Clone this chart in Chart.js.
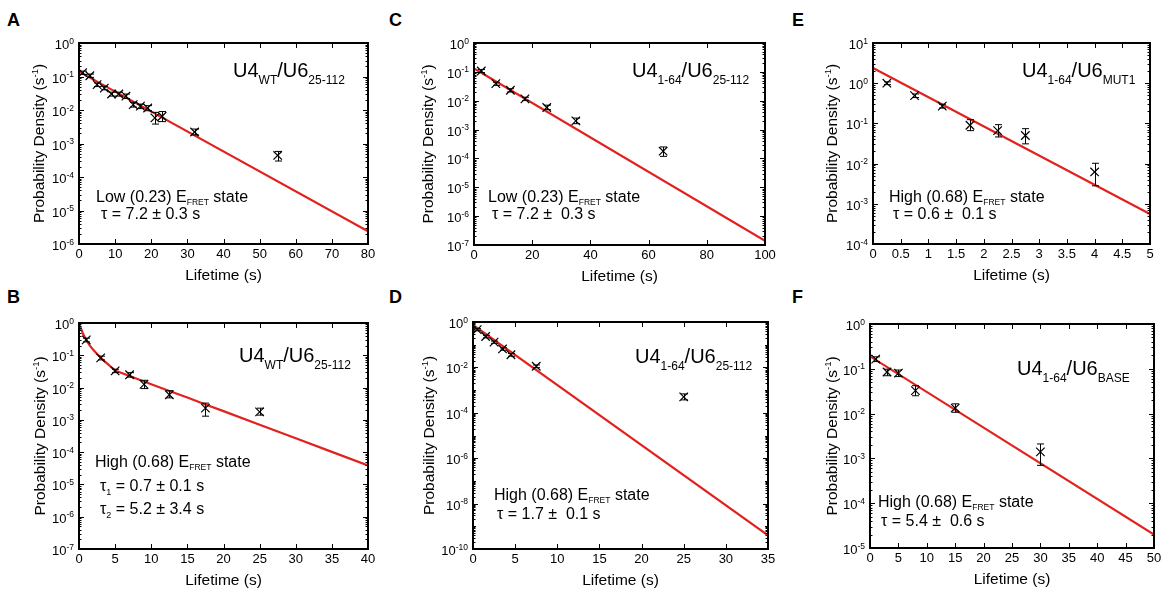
<!DOCTYPE html>
<html lang="en">
<head>
<meta charset="UTF-8">
<title>Dwell time distributions</title>
<script src="https://cdn.jsdelivr.net/npm/chart.js"></script>
<style>
  body { margin: 0; background: #fff; font-family: "Liberation Sans", Arial, sans-serif; }
  #fig { position: relative; width: 1165px; height: 592px; overflow: hidden; }
  #fig canvas { position: absolute; }
  .letter { position: absolute; font-size: 18px; font-weight: bold; line-height: 18px; }
</style>
</head>
<body>
<div id="fig">
  <div class="letter" style="left:7px;top:11px">A</div>
  <div class="letter" style="left:389px;top:11px">C</div>
  <div class="letter" style="left:792px;top:11px">E</div>
  <div class="letter" style="left:7px;top:288px">B</div>
  <div class="letter" style="left:389px;top:288px">D</div>
  <div class="letter" style="left:792px;top:288px">F</div>
  <canvas id="cA"></canvas>
  <canvas id="cC"></canvas>
  <canvas id="cE"></canvas>
  <canvas id="cB"></canvas>
  <canvas id="cD"></canvas>
  <canvas id="cF"></canvas>
</div>
<script>
// ---- data ----
// A: U4WT/U6 25-112, low FRET
const xA = [1, 3, 5, 7, 9, 11, 13, 15, 17, 19, 21, 23, 32, 55];
const yA = [0.13, 0.105, 0.057, 0.045, 0.030, 0.030, 0.026, 0.0145, 0.013, 0.0115, 0.0058, 0.0065, 0.0022, 0.00044];
const loA = [0.115, 0.094, 0.050, 0.040, 0.026, 0.026, 0.022, 0.0122, 0.011, 0.0095, 0.0038, 0.0045, 0.0018, 0.00030];
const hiA = [0.145, 0.118, 0.064, 0.051, 0.034, 0.034, 0.030, 0.017, 0.015, 0.0135, 0.0085, 0.009, 0.0027, 0.00058];
const fitXA = [0, 80];
const fitYA = [0.14, 2.4e-6];

// C: U4 1-64/U6 25-112, low FRET
const xC = [2.5, 7.5, 12.5, 17.5, 25, 35, 65];
const yC = [0.107, 0.039, 0.023, 0.0116, 0.0058, 0.0020, 0.000178];
const loC = [0.095, 0.034, 0.020, 0.0101, 0.0049, 0.0016, 0.000118];
const hiC = [0.12, 0.044, 0.026, 0.0132, 0.0070, 0.0025, 0.00025];
const fitXC = [0, 100];
const fitYC = [0.13, 1.4e-7];

// E: U4 1-64/U6 MUT1, high FRET
const xE = [0.25, 0.75, 1.25, 1.75, 2.25, 2.75, 4];
const yE = [1.0, 0.49, 0.27, 0.09, 0.066, 0.05, 0.0062];
const loE = [0.92, 0.44, 0.24, 0.066, 0.046, 0.031, 0.0028];
const hiE = [1.08, 0.54, 0.30, 0.124, 0.093, 0.074, 0.0102];
const fitXE = [0, 5];
const fitYE = [2.4, 5.6e-4];

// B: U4WT/U6 25-112, high FRET (two-exponential fit)
const xB = [1, 3, 5, 7, 9, 12.5, 17.5, 25];
const yB = [0.3, 0.083, 0.033, 0.025, 0.0125, 0.006, 0.0023, 0.00176];
const loB = [0.26, 0.072, 0.029, 0.021, 0.0093, 0.0048, 0.0013, 0.0014];
const hiB = [0.34, 0.094, 0.037, 0.029, 0.0168, 0.008, 0.0033, 0.0023];
const fitXB = [0, 0.5, 1, 1.5, 2, 2.5, 3, 3.5, 4, 4.5, 5, 7, 10, 12.5, 15, 17.5, 20, 25, 30, 35, 40];
const fitYB = [0.95, 0.5, 0.3, 0.2, 0.145, 0.11, 0.085, 0.066, 0.053, 0.042, 0.034, 0.0229, 0.0127, 0.00785, 0.0049, 0.003, 0.00186, 0.00071, 0.00027, 0.000102, 0.000039];

// D: U4 1-64/U6 25-112, high FRET
const xD = [0.5, 1.5, 2.5, 3.5, 4.5, 7.5, 25];
const yD = [0.46, 0.23, 0.13, 0.065, 0.036, 0.0112, 0.0005];
const loD = [0.41, 0.2, 0.115, 0.057, 0.031, 0.0097, 0.00037];
const hiD = [0.51, 0.26, 0.145, 0.073, 0.041, 0.0128, 0.00068];
const fitXD = [0, 35];
const fitYD = [0.75, 4e-10];

// F: U4 1-64/U6 BASE, high FRET
const xF = [1, 3, 5, 8, 15, 30];
const yF = [0.165, 0.085, 0.08, 0.0325, 0.0133, 0.0014];
const loF = [0.145, 0.07, 0.067, 0.025, 0.0107, 0.0007];
const hiF = [0.185, 0.098, 0.094, 0.042, 0.0165, 0.0021];
const fitXF = [0, 50];
const fitYF = [0.19, 2.0e-5];

const FONT = '"Liberation Sans", Arial, sans-serif';
const RED = '#e2211c';

// text runs: [text, size, dy]
const big = (a, b) => [['U4', 20], [a, 12, 7], ['/U6', 20], [b, 12, 7]];
const state = s => [[s + ' E', 16], ['FRET', 8.5, 3], [' state', 16]];
const tau = s => [['\u03c4 = ' + s, 16]];
const tauN = (n, s) => [['\u03c4', 16], [n, 9, 4], [' = ' + s, 16]];

const panels = [
  { id: 'cA', rect: [79, 43, 368, 244], xr: [0, 80, 10], yr: [-6, 0, 1],
    x: xA, y: yA, lo: loA, hi: hiA, fx: fitXA, fy: fitYA, yt: 41,
    texts: [[233, 77, big('WT', '25-112')], [96, 202, state('Low (0.23)')], [101, 219, tau('7.2 \u00b1 0.3 s')]] },
  { id: 'cC', rect: [474, 43, 765, 245], xr: [0, 100, 20], yr: [-7, 0, 1],
    x: xC, y: yC, lo: loC, hi: hiC, fx: fitXC, fy: fitYC, yt: 47,
    texts: [[632, 77, big('1-64', '25-112')], [488, 202, state('Low (0.23)')], [492, 219, tau('7.2 \u00b1  0.3 s')]] },
  { id: 'cE', rect: [873, 43, 1150, 244], xr: [0, 5, 0.5], yr: [-4, 1, 1],
    x: xE, y: yE, lo: loE, hi: hiE, fx: fitXE, fy: fitYE, yt: 42,
    texts: [[1022, 77, big('1-64', 'MUT1')], [889, 202, state('High (0.68)')], [893, 219, tau('0.6 \u00b1  0.1 s')]] },
  { id: 'cB', rect: [79, 323, 368, 549], xr: [0, 40, 5], yr: [-7, 0, 1],
    x: xB, y: yB, lo: loB, hi: hiB, fx: fitXB, fy: fitYB, yt: 40,
    texts: [[239, 362, big('WT', '25-112')], [95, 467, state('High (0.68)')],
            [100, 491, tauN('1', '0.7 \u00b1 0.1 s')], [100, 514, tauN('2', '5.2 \u00b1 3.4 s')]] },
  { id: 'cD', rect: [473, 322, 768, 549], xr: [0, 35, 5], yr: [-10, 0, 2],
    x: xD, y: yD, lo: loD, hi: hiD, fx: fitXD, fy: fitYD, yt: 45,
    texts: [[635, 363, big('1-64', '25-112')], [494, 500, state('High (0.68)')], [497, 519, tau('1.7 \u00b1  0.1 s')]] },
  { id: 'cF', rect: [870, 324, 1154, 548], xr: [0, 50, 5], yr: [-5, 0, 1],
    x: xF, y: yF, lo: loF, hi: hiF, fx: fitXF, fy: fitYF, yt: 39,
    texts: [[1017, 375, big('1-64', 'BASE')], [878, 507, state('High (0.68)')], [881, 526, tau('5.4 \u00b1  0.6 s')]] }
];

function runs(ctx, x, y, parts, measureOnly) {
  let cx = x;
  parts.forEach(p => {
    ctx.font = p[1] + 'px ' + FONT;
    if (!measureOnly) ctx.fillText(p[0], cx, y + (p[2] || 0));
    cx += ctx.measureText(p[0]).width;
  });
  return cx - x;
}

const figPlugin = {
  id: 'figPlugin',
  afterDatasetsDraw(chart, args, c) {
    const ctx = chart.ctx, xs = chart.scales.x, ys = chart.scales.y;
    ctx.save();
    ctx.strokeStyle = '#000';
    ctx.lineWidth = 1;
    c.x.forEach((v, i) => {
      const px = Math.round(xs.getPixelForValue(v)) + 0.5;
      const t = ys.getPixelForValue(c.hi[i]), b = ys.getPixelForValue(c.lo[i]);
      ctx.beginPath();
      ctx.moveTo(px, t); ctx.lineTo(px, b);
      ctx.moveTo(px - 3.5, t); ctx.lineTo(px + 3.5, t);
      ctx.moveTo(px - 3.5, b); ctx.lineTo(px + 3.5, b);
      ctx.stroke();
    });
    ctx.restore();
  },
  afterDraw(chart, args, c) {
    const ctx = chart.ctx, xs = chart.scales.x, ys = chart.scales.y;
    const a = chart.chartArea;
    const ox = c.rect[0] - 80, oy = c.rect[1] - 40;
    ctx.save();
    ctx.fillStyle = '#000';
    ctx.strokeStyle = '#000';
    // inward ticks on all four sides
    ctx.lineWidth = 1;
    ctx.beginPath();
    xs.ticks.forEach(t => {
      const px = Math.round(xs.getPixelForValue(t.value)) + 0.5;
      ctx.moveTo(px, a.bottom); ctx.lineTo(px, a.bottom - 5);
      ctx.moveTo(px, a.top); ctx.lineTo(px, a.top + 5);
    });
    for (let n = c.yr[0]; n <= c.yr[1]; n++) {
      const major = (n - c.yr[0]) % c.yr[2] === 0;
      const py = Math.round(ys.getPixelForValue(Math.pow(10, n))) + 0.5;
      const len = major ? 5 : 3;
      ctx.moveTo(a.left, py); ctx.lineTo(a.left + len, py);
      ctx.moveTo(a.right, py); ctx.lineTo(a.right - len, py);
      if (n === c.yr[1]) break;
      for (let k = 2; k <= 9; k++) {
        const pm = Math.round(ys.getPixelForValue(k * Math.pow(10, n))) + 0.5;
        ctx.moveTo(a.left, pm); ctx.lineTo(a.left + 2.5, pm);
        ctx.moveTo(a.right, pm); ctx.lineTo(a.right - 2.5, pm);
      }
    }
    ctx.stroke();
    // box
    ctx.lineWidth = 2;
    ctx.strokeRect(a.left, a.top, a.right - a.left, a.bottom - a.top);

    // y tick labels 10^n
    ctx.textAlign = 'left';
    ctx.textBaseline = 'alphabetic';
    for (let n = c.yr[0]; n <= c.yr[1]; n += c.yr[2]) {
      const py = ys.getPixelForValue(Math.pow(10, n));
      const parts = [['10', 13], [String(n), 8.5, -5.5]];
      const w = runs(ctx, 0, 0, parts, true);
      runs(ctx, a.left - 5 - w, py + 6, parts);
    }

    // y axis title
    const yt = [['Probability Density (s', 15.5], ['-1', 9.5, -6], [')', 15.5]];
    const wy = runs(ctx, 0, 0, yt, true);
    ctx.save();
    ctx.translate(a.left - c.yt, (a.top + a.bottom) / 2);
    ctx.rotate(-Math.PI / 2);
    runs(ctx, -wy / 2, 5.5, yt);
    ctx.restore();

    // x axis title
    ctx.font = '15.5px ' + FONT;
    ctx.textAlign = 'center';
    ctx.fillText('Lifetime (s)', (a.left + a.right) / 2, a.bottom + 36);

    // annotations
    ctx.textAlign = 'left';
    c.texts.forEach(t => runs(ctx, t[0] - ox, t[1] - oy, t[2]));
    ctx.restore();
  }
};

panels.forEach(c => {
  const [L, T, R, B] = c.rect;
  const cv = document.getElementById(c.id);
  const W = R - L + 100, H = B - T + 85;
  cv.width = W; cv.height = H;
  cv.style.left = (L - 80) + 'px';
  cv.style.top = (T - 40) + 'px';
  cv.style.width = W + 'px';
  cv.style.height = H + 'px';

  const decades = [];
  for (let n = c.yr[0]; n <= c.yr[1]; n += c.yr[2]) decades.push({ value: Math.pow(10, n) });

  new Chart(cv, {
    data: {
      datasets: [
        {
          type: 'scatter',
          data: c.x.map((v, i) => ({ x: v, y: c.y[i] })),
          pointStyle: 'crossRot',
          pointRadius: 6,
          borderColor: '#000',
          backgroundColor: '#000',
          borderWidth: 1.2
        },
        {
          type: 'line',
          data: c.fx.map((v, i) => ({ x: v, y: c.fy[i] })),
          borderColor: RED,
          borderWidth: 2.2,
          pointRadius: 0,
          tension: 0,
          fill: false
        }
      ]
    },
    options: {
      responsive: false,
      animation: false,
      events: [],
      layout: { padding: { left: 0, top: 40, right: 20, bottom: 0 } },
      plugins: { legend: { display: false }, tooltip: { enabled: false }, figPlugin: c },
      scales: {
        x: {
          type: 'linear',
          min: c.xr[0], max: c.xr[1],
          grid: { display: false, drawTicks: false },
          border: { display: false },
          ticks: {
            stepSize: c.xr[2], autoSkip: false, maxRotation: 0, padding: 3,
            color: '#000', font: { family: FONT, size: 13 },
            callback: v => String(Math.round(v * 100) / 100)
          },
          afterFit: s => { s.height = 45; }
        },
        y: {
          type: 'logarithmic',
          min: Math.pow(10, c.yr[0]), max: Math.pow(10, c.yr[1]),
          grid: { display: false, drawTicks: false },
          border: { display: false },
          ticks: { display: false },
          afterBuildTicks: s => { s.ticks = decades.slice(); },
          afterFit: s => { s.width = 80; }
        }
      }
    },
    plugins: [figPlugin]
  });
});
</script>
</body>
</html>
